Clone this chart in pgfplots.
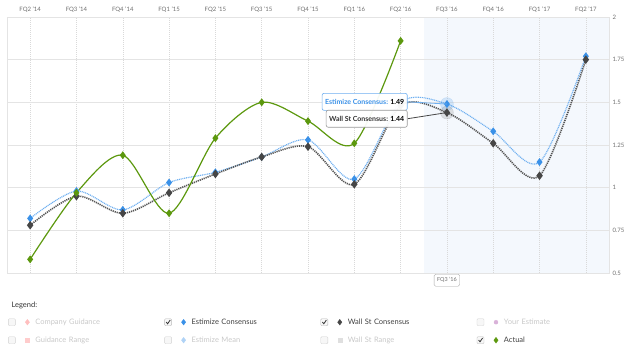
\documentclass[border=0pt]{standalone}
\usepackage{fontspec}
\setmainfont{Lato}
\usepackage{pgfplots}
\pgfplotsset{compat=1.18}
\definecolor{actgreen}{RGB}{92,152,14}
\definecolor{estblue}{RGB}{58,145,232}
\definecolor{estline}{RGB}{110,175,240}
\definecolor{wsdark}{RGB}{70,70,70}
\definecolor{wsline}{RGB}{85,85,85}
\definecolor{forecast}{RGB}{244,248,253}
\definecolor{gridc}{RGB}{228,228,228}
\definecolor{tickc}{RGB}{110,110,110}
\definecolor{faint}{RGB}{200,200,200}
\pgfplotstableread{
x est ws
0 0.82 0.78
1 0.98 0.95
2 0.87 0.85
3 1.03 0.97
4 1.09 1.08
5 1.18 1.18
6 1.28 1.24
7 1.05 1.02
8 1.50 1.48
9 1.49 1.44
10 1.33 1.26
11 1.15 1.07
12 1.77 1.75
}\consensus
\pgfplotstableread{
x act
0 0.58
1 0.97
2 1.19
3 0.85
4 1.29
5 1.50
6 1.39
7 1.26
8 1.86
}\actual
\pgfplotsset{
  chk/.style={legend image code/.code={
      \path[draw=none,fill=none] (0pt,-4pt) rectangle (24pt,4pt);
      \path[draw=gray!55,fill=gray!6,rounded corners=1pt,line width=0.4pt] (0pt,-3.5pt) rectangle (7pt,3.5pt);
      \path[draw=black!80,fill=none,line width=0.8pt] (1.6pt,0.2pt) -- (3pt,-1.6pt) -- (5.6pt,2.2pt);
      \path[draw=none] plot coordinates {(19pt,0pt)};
  }},
  unchk/.style={legend image code/.code={
      \path[draw=none,fill=none] (0pt,-4pt) rectangle (24pt,4pt);
      \path[draw=gray!35,fill=gray!6,rounded corners=1pt,line width=0.4pt] (0pt,-3.5pt) rectangle (7pt,3.5pt);
      \path[draw=none] plot coordinates {(19pt,0pt)};
  }},
}
\begin{document}
\begin{tikzpicture}
\begin{axis}[
  scale only axis, width=602pt, height=256pt,
  set layers, clip=false,
  xmin=-0.5, xmax=12.5, ymin=0.5, ymax=2,
  xtick={0,...,12},
  xticklabels={FQ2 '14,FQ3 '14,FQ4 '14,FQ1 '15,FQ2 '15,FQ3 '15,FQ4 '15,FQ1 '16,FQ2 '16,FQ3 '16,FQ4 '16,FQ1 '17,FQ2 '17},
  xticklabel pos=upper,
  ytick={0.5,0.75,1,1.25,1.5,1.75,2},
  yticklabel pos=right,
  major tick length=0pt,
  axis line style={draw=gridc, line width=0.8pt},
  grid=major,
  x grid style={draw=gray!30, dash pattern=on 1pt off 1pt, line width=0.5pt},
  y grid style={draw=gridc, line width=0.7pt},
  ticklabel style={font=\fontsize{6}{7}\selectfont, text=tickc},
  xticklabel style={yshift=1pt},
  /pgf/number format/assume math mode=true,
  legend columns=4,
  legend cell align=left,
  legend style={at={(0,0)}, anchor=north west, xshift=1pt, yshift=-45pt,
    draw=none, fill=none, inner sep=0pt, row sep=10pt,
    font=\fontsize{7.5}{9}\selectfont,
    nodes={inner sep=0pt, text width=129pt, align=left, text height=5.5pt, text depth=1.5pt},
    /tikz/every odd column/.append style={column sep=3pt}},
]
% legend entries
\addlegendimage{unchk, mark=diamond*, mark size=2.8pt, color=red!25}
\addlegendentry{\textcolor{faint}{Company Guidance}}
\addlegendimage{chk, mark=diamond*, mark size=2.8pt, color=estblue}
\addlegendentry{\textcolor{black!75}{Estimize Consensus}}
\addlegendimage{chk, mark=diamond*, mark size=2.8pt, color=wsdark}
\addlegendentry{\textcolor{black!75}{Wall St Consensus}}
\addlegendimage{unchk, mark=*, mark size=2pt, color=violet!30}
\addlegendentry{\textcolor{faint}{Your Estimate}}
\addlegendimage{unchk, mark=square*, mark size=2pt, color=red!20}
\addlegendentry{\textcolor{faint}{Guidance Range}}
\addlegendimage{unchk, mark=diamond*, mark size=2.8pt, color=estblue!40}
\addlegendentry{\textcolor{faint}{Estimize Mean}}
\addlegendimage{unchk, mark=square*, mark size=2pt, color=gray!25}
\addlegendentry{\textcolor{faint}{Wall St Range}}
\addlegendimage{chk, mark=diamond*, mark size=2.8pt, color=actgreen}
\addlegendentry{\textcolor{black!75}{Actual}}
% forecast region
\addplot[on layer=axis background, fill=forecast, draw=none, forget plot]
  coordinates {(8.5,0.5) (8.5,2) (12.5,2) (12.5,0.5)} -- cycle;
% halos
\addplot[forget plot, only marks, mark=*, mark size=6.5pt, color=estblue, opacity=0.18] coordinates {(9,1.49)};
\addplot[forget plot, only marks, mark=*, mark size=6.5pt, color=wsdark, opacity=0.15] coordinates {(9,1.44)};
% series
\addplot[forget plot, smooth, color=estline, line width=1.2pt, dash pattern=on 1pt off 0.8pt,
  mark=diamond*, mark size=3pt, mark options={solid, fill=estblue, draw=estblue}]
  table[x=x, y=est] {\consensus};
\addplot[forget plot, smooth, color=wsline, line width=1.6pt, dash pattern=on 1.2pt off 0.9pt,
  mark=diamond*, mark size=3pt, mark options={solid, fill=wsdark, draw=wsdark}]
  table[x=x, y=ws] {\consensus};
\addplot[forget plot, smooth, color=actgreen, line width=1.2pt,
  mark=diamond*, mark size=3pt, mark options={solid, fill=actgreen}]
  table[x=x, y=act] {\actual};
% tooltip
\begin{pgfonlayer}{axis foreground}
\draw[estline, line width=0.8pt] (axis cs:8.15,1.503) -- (axis cs:9,1.49);
\draw[wsdark, line width=0.8pt] (axis cs:8.15,1.404) -- (axis cs:9,1.44);
\node[draw=estline, fill=white, fill opacity=0.95, text opacity=1, rounded corners=2pt, anchor=east,
  minimum height=17pt, inner xsep=3pt, font=\fontsize{7}{8}\selectfont, line width=0.6pt]
  at (axis cs:8.15,1.503) {\textcolor{estblue}{\textbf{Estimize Consensus:}} \textbf{1.49}};
\node[draw=gray!80, fill=white, fill opacity=0.95, text opacity=1, rounded corners=2pt, anchor=east,
  minimum height=17pt, inner xsep=3pt, font=\fontsize{7}{8}\selectfont, line width=0.6pt]
  at (axis cs:8.15,1.404) {\textcolor{black!80}{\textbf{Wall St Consensus:}} \textbf{1.44}};
% bottom x label
\node[draw=gray!70, fill=white, rounded corners=1.5pt, anchor=north, yshift=-1pt,
  font=\fontsize{5.5}{6}\selectfont, text=tickc, inner xsep=3pt, minimum height=12pt]
  at (axis cs:9,0.5) {FQ3 '16};
\end{pgfonlayer}
% legend heading
\node[anchor=west, font=\fontsize{7.5}{9}\selectfont, text=black!80] at ([shift={(1pt,-32.5pt)}]rel axis cs:0,0) {Legend:};
\end{axis}
\pgfresetboundingbox
\useasboundingbox (-7pt,-81pt) rectangle (633pt,273pt);
\end{tikzpicture}
\end{document}
